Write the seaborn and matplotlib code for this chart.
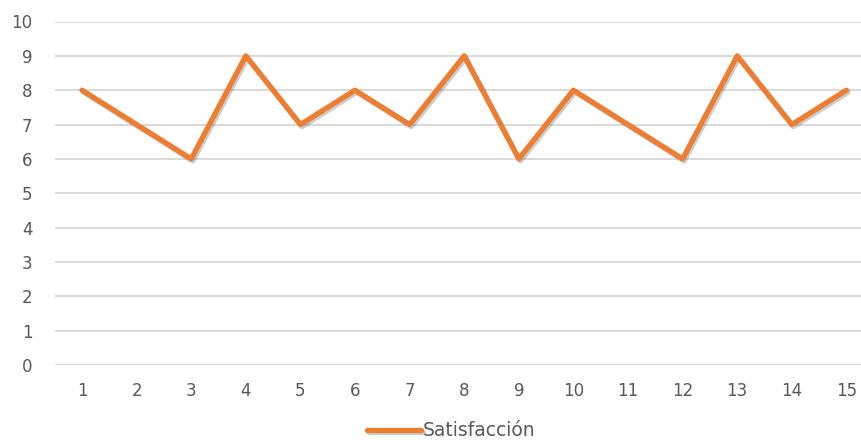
import matplotlib
matplotlib.use("Agg")
import matplotlib.pyplot as plt
import matplotlib.patheffects as pe
import pandas as pd
import seaborn as sns

encuesta = list(range(1, 16))
satisfaccion = [8, 7, 6, 9, 7, 8, 7, 9, 6, 8, 7, 6, 9, 7, 8]
y_ticks = list(range(0, 11))

df = pd.DataFrame({"Encuesta": encuesta, "Satisfacción": satisfaccion})

sns.set_theme(style="white")
plt.rcParams["font.family"] = ["DejaVu Sans"]

fig = plt.figure(figsize=(8.61, 4.41), dpi=100)
ax = fig.add_axes([54.7 / 861, 1 - 365 / 441, 819 / 861, (365 - 21.5) / 441])

orange = "#ED7D31"
sns.lineplot(data=df, x="Encuesta", y="Satisfacción", ax=ax, color=orange,
             linewidth=3.8, label="Satisfacción",
             solid_capstyle="round", solid_joinstyle="round", zorder=3)
line = ax.get_lines()[0]
line.set_path_effects([pe.SimpleLineShadow(offset=(1.2, -1.5), alpha=0.3, shadow_color="#5a5a5a"),
                       pe.Normal()])

ax.set_xlim(0.5, 15.5)
ax.set_ylim(0, 10)
ax.set_xticks(encuesta)
ax.set_yticks(y_ticks)
ax.set_xlabel("")
ax.set_ylabel("")
ax.grid(axis="y", color="#d9d9d9", linewidth=1.4)
ax.set_axisbelow(True)
for s in ax.spines.values():
    s.set_visible(False)
ax.tick_params(axis="both", length=0, labelsize=12, labelcolor="#595959")
ax.tick_params(axis="y", pad=16)
ax.tick_params(axis="x", pad=12)

ax.legend_.remove()
fig.legend(handles=[line], labels=["Satisfacción"], loc="center",
           bbox_to_anchor=(451 / 861, 1 - 431 / 441), frameon=False,
           fontsize=13.5, labelcolor="#595959", handlelength=2.9,
           handletextpad=0.05)

fig.savefig("out.png", dpi=100, facecolor="white")
